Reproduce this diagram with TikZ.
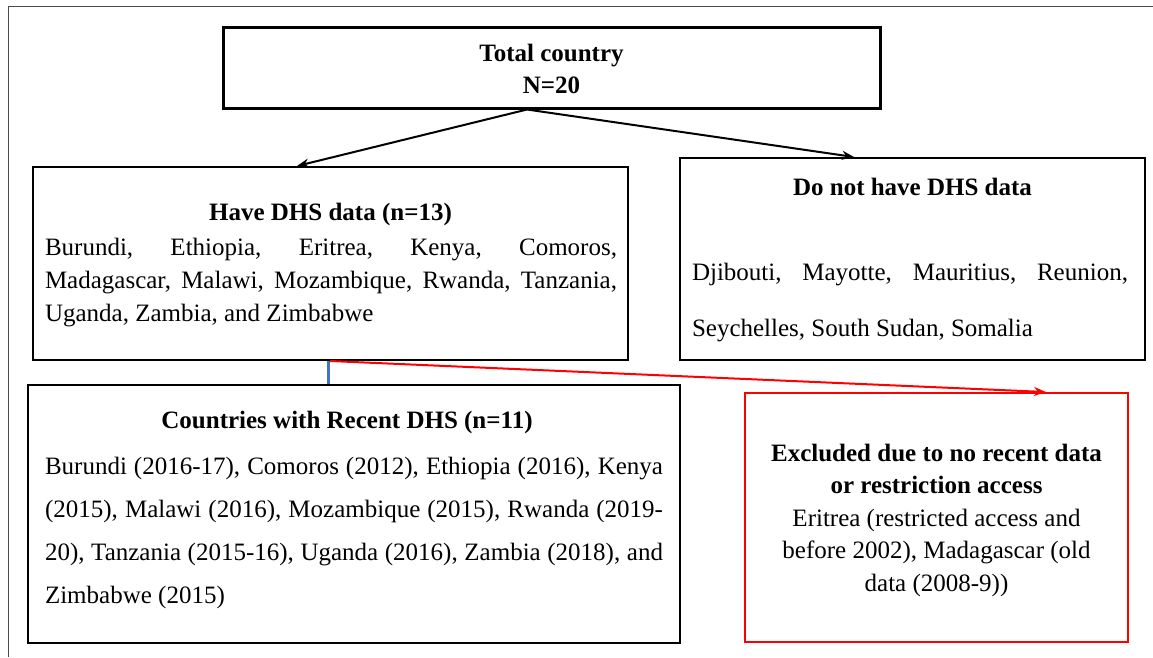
\documentclass[tikz,border=0pt]{standalone}
\usepackage{fontspec}
\setmainfont{Liberation Serif}
\usetikzlibrary{arrows.meta}
\definecolor{linkblue}{HTML}{4472C4}
\newcommand{\jline}[2]{\makebox[#1][s]{#2}}
\begin{document}
\begin{tikzpicture}[x=1pt,y=-1pt,>={Stealth[length=12pt,width=9pt]},
  box/.style={draw,line width=2pt,inner sep=0pt},
  txt/.style={inner sep=0pt,font=\fontsize{25}{33}\selectfont}]
\useasboundingbox (0,0) rectangle (1153,657);
\draw[gray!60!black,line width=1pt] (8,657) -- (8,6) -- (1153,6);
% boxes
\node[box,line width=3pt,minimum width=657,minimum height=81] (total) at (551.5,67.5) {};
\node[box,minimum width=595,minimum height=193] (have) at (330.5,263.5) {};
\node[box,minimum width=465,minimum height=202] (nohave) at (912.5,259) {};
\node[box,minimum width=652,minimum height=258] (recent) at (354,514) {};
\node[box,draw=red,minimum width=383,minimum height=249] (excl) at (936.5,517.5) {};
% texts
\node[txt,align=center,font=\fontsize{25}{32}\selectfont\bfseries] (totaltxt) at (551.5,69) {Total country\\N=20};
\node[txt,font=\fontsize{25}{33}\selectfont\bfseries] (havetitle) at (330.5,214) {Have DHS data (n=13)};
\node[txt,align=left] (havetxt) at (331,283) {\jline{572pt}{Burundi, Ethiopia, Eritrea, Kenya, Comoros,}\\
  \jline{572pt}{Madagascar, Malawi, Mozambique, Rwanda, Tanzania,}\\
  Uganda, Zambia, and Zimbabwe};
\node[txt,font=\fontsize{25}{33}\selectfont\bfseries] (nohavetitle) at (912.5,187) {Do not have DHS data};
\node[txt,align=left,font=\fontsize{25}{56}\selectfont] (nohavetxt) at (910,303) {\jline{436pt}{Djibouti, Mayotte, Mauritius, Reunion,}\\
  Seychelles, South Sudan, Somalia};
\node[txt,font=\fontsize{25}{33}\selectfont\bfseries] (recenttitle) at (347,422) {Countries with Recent DHS (n=11)};
\node[txt,align=left,font=\fontsize{25}{42.7}\selectfont] (recenttxt) at (354,533) {\jline{618pt}{Burundi (2016-17), Comoros (2012), Ethiopia (2016), Kenya}\\
  \jline{618pt}{(2015), Malawi (2016), Mozambique (2015), Rwanda (2019-}\\
  \jline{618pt}{20), Tanzania (2015-16), Uganda (2016), Zambia (2018), and}\\
  Zimbabwe (2015)};
\node[txt,align=center,font=\fontsize{25}{32.5}\selectfont] (excltxt) at (936.5,520) {\textbf{Excluded due to no recent data}\\
  \textbf{or restriction access}\\
  Eritrea (restricted access and\\
  before 2002), Madagascar (old\\
  data (2008-9))};
% connectors
\draw[->,line width=2pt] ([xshift=-24.5pt]total.south) -- ([xshift=265pt]have.north west);
\draw[->,line width=2pt] ([xshift=-24.5pt]total.south) -- ([xshift=175pt]nohave.north west);
\draw[linkblue,line width=3pt] ([xshift=-2.5pt]have.south) -- ([xshift=-2.5pt]have.south |- recent.north);
\draw[->,red,line width=2pt] ([xshift=-0.5pt]have.south) -- ([xshift=302pt]excl.north west);
\end{tikzpicture}
\end{document}
